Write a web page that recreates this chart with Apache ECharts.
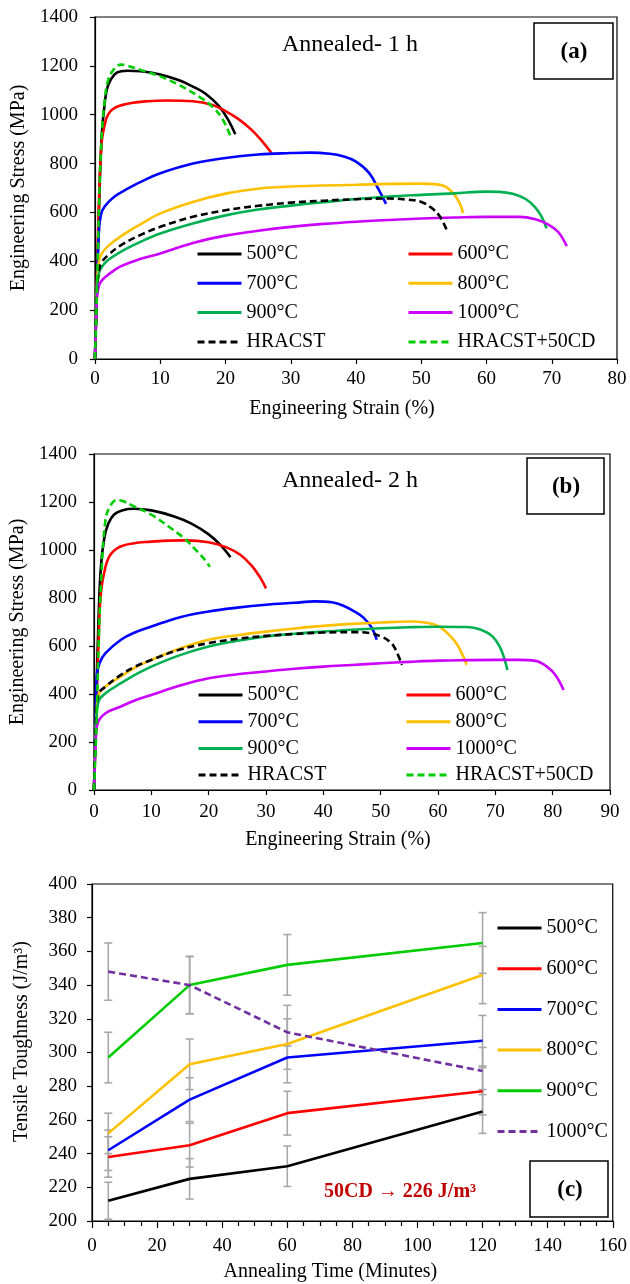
<!DOCTYPE html>
<html>
<head>
<meta charset="utf-8">
<script src="https://cdn.jsdelivr.net/npm/echarts@6/dist/echarts.min.js"></script>
<style>html,body{margin:0;padding:0;background:#fff;}#c{width:630px;height:1284px;}</style>
</head>
<body>
<div id="c"></div>
<script>
// ---------- Panel (a): Annealed 1 h  [strain %, stress MPa] ----------
const a500 = [[0,0],[0.3,300],[0.6,600],[1.0,900],[1.5,1050],[2.0,1120],[3,1165],[4,1178],[5,1180],[7,1178],[10,1165],[13,1140],[15,1115],[17,1085],[19,1035],[20.5,975],[21.5,920]];
const a600 = [[0,0],[0.3,320],[0.6,640],[1.0,880],[1.5,960],[2,1000],[3,1028],[5,1045],[8,1055],[11,1058],[15,1055],[18,1040],[20,1015],[22,982],[24,938],[25.5,895],[27.2,838]];
const a700 = [[0,0],[0.3,300],[0.6,520],[0.9,590],[1.5,625],[3,665],[5,697],[7,725],[10,760],[15,800],[20,823],[25,837],[30,843],[33,845],[36,840],[38,830],[40,808],[42,762],[43.5,692],[44.6,635]];
const a800 = [[0,0],[0.3,300],[0.6,400],[1,430],[2,462],[4,503],[7,552],[10,596],[15,643],[20,677],[25,697],[30,706],[35,710],[40,713],[45,717],[50,718],[52,716],[53.5,708],[54.5,690],[55.3,665],[56,630],[56.4,598]];
const a900 = [[0,0],[0.3,280],[0.6,350],[1,375],[2,405],[4,440],[7,480],[10,514],[15,555],[20,588],[25,612],[30,628],[35,642],[40,655],[45,665],[50,672],[55,678],[60,685],[62,684],[64,676],[66,655],[67.5,620],[68.5,580],[69.2,535]];
const a1000 = [[0,0],[0.3,250],[0.6,300],[1,320],[2,345],[4,380],[7,410],[10,432],[15,475],[20,505],[25,525],[30,541],[35,553],[40,562],[45,569],[50,575],[55,579],[60,582],[65,582],[67.5,572],[69.5,550],[71,520],[72.3,462]];
const aHR = [[0,0],[0.3,280],[0.6,360],[1,395],[2,425],[4,466],[7,508],[10,541],[15,582],[20,609],[25,627],[30,640],[35,648],[40,654],[45,657],[48,652],[50,643],[51.5,620],[52.8,585],[54,522]];
const aCD = [[0,0],[0.3,280],[0.6,600],[1,900],[1.5,1060],[2,1140],[3,1190],[4,1205],[5,1200],[7,1183],[10,1157],[13,1120],[16,1073],[18,1032],[19.5,984],[20.7,916]];

// ---------- Panel (b): Annealed 2 h ----------
const b500 = [[0,0],[0.4,380],[0.8,720],[1.2,930],[1.8,1050],[2.5,1110],[3.5,1148],[5,1166],[7,1172],[10,1165],[14,1140],[17,1110],[20,1065],[22,1022],[23.8,970]];
const b600 = [[0,0],[0.4,330],[0.8,620],[1.2,820],[2,930],[3,985],[5,1018],[10,1035],[16,1040],[20,1032],[23,1012],[25.5,980],[27.5,935],[29,885],[30,840]];
const b700 = [[0,0],[0.3,300],[0.5,480],[1,530],[2,570],[4.7,626],[7,655],[10,681],[15,720],[20,744],[25,760],[30,772],[35,780],[38.5,786],[41.5,782],[43.5,768],[45.5,743],[47,718],[48.5,674],[49.3,626]];
const b800 = [[0,0],[0.4,300],[0.8,395],[2,431],[4.7,473],[7,508],[10,542],[15,590],[20,626],[25,645],[30,660],[35,673],[40,684],[45,692],[50,698],[55,702],[58,697],[60,684],[62,645],[63.5,600],[65,522]];
const b900 = [[0,0],[0.4,280],[0.8,370],[2,403],[4.7,445],[7,478],[10,514],[15,562],[20,598],[25,622],[30,640],[35,651],[40,660],[45,668],[50,674],[55,678],[60,680],[65,679],[67.5,668],[69.5,640],[70.8,595],[71.6,545],[72.1,500]];
const b1000 = [[0,0],[0.3,200],[0.6,275],[2,320],[4.7,348],[7,372],[10,396],[15,435],[20,466],[25,482],[30,494],[35,505],[40,514],[45,521],[50,528],[55,534],[60,539],[65,541],[70,542],[74,542],[77,538],[79,514],[80.5,478],[81.9,417]];
const bHR = [[0,0],[0.4,300],[0.8,400],[2,431],[4.7,480],[7,512],[10,542],[15,585],[20,612],[25,630],[30,642],[35,650],[40,656],[45,658],[48,654],[50,640],[51.5,620],[52.5,590],[53.7,521]];
const bCD = [[0,0],[0.4,250],[0.8,600],[1.2,848],[2,1126],[3,1190],[4,1208],[5,1204],[7,1182],[10,1147],[13,1098],[16,1043],[18,994],[19.5,955],[20.2,930]];

// ---------- Panel (c): Tensile toughness vs annealing time ----------
const times = [5, 30, 60, 120];
const t500 = [212, 225, 232.5, 265];  const e500 = [11, 12, 12, 13];
const t600 = [238, 245, 264, 277];    const e600 = [12, 13, 13, 14];
const t700 = [242, 272, 297, 307];    const e700 = [12, 13, 7, 15];
const t800 = [252, 293, 305, 346];    const e800 = [12, 15, 23, 17];
const t900 = [297, 340, 352, 365];    const e900 = [15, 17, 18, 18];
const t1000 = [348, 340, 312, 289];   const e1000 = [17, 17, 8, 14];

const tempLabels = ['500°C','600°C','700°C','800°C','900°C','1000°C'];
const extraLabels = ['HRACST','HRACST+50CD'];

const FONT = "'Liberation Serif','Times New Roman',serif";

const colAB = ['#000000','#ff0000','#0000ff','#ffc000','#00b050','#cc00ff'];
const colC  = ['#000000','#ff0000','#0000ff','#ffc000','#00cc00','#7030a0'];

function lineSeries(name, data, color, gi, dashed) {
  return {
    name: name, type: 'line', data: data, xAxisIndex: gi, yAxisIndex: gi,
    showSymbol: false, symbol: 'none', smooth: 0.4,
    lineStyle: { color: color, width: 2.6, type: dashed ? [7,4] : 'solid' },
    itemStyle: { color: color }, z: 3
  };
}

const series = [];
const aSets = [a500,a600,a700,a800,a900,a1000];
const bSets = [b500,b600,b700,b800,b900,b1000];
aSets.forEach((d,i)=>series.push(lineSeries('a|'+tempLabels[i], d, colAB[i], 0, false)));
series.push(lineSeries('a|'+extraLabels[0], aHR, '#000000', 0, true));
series.push(lineSeries('a|'+extraLabels[1], aCD, '#00cc00', 0, true));
bSets.forEach((d,i)=>series.push(lineSeries('b|'+tempLabels[i], d, colAB[i], 1, false)));
series.push(lineSeries('b|'+extraLabels[0], bHR, '#000000', 1, true));
series.push(lineSeries('b|'+extraLabels[1], bCD, '#00cc00', 1, true));

const cVals = [t500,t600,t700,t800,t900,t1000];
const cErrs = [e500,e600,e700,e800,e900,e1000];
// error bars
const errData = [];
cVals.forEach((vals, si) => {
  vals.forEach((v, k) => errData.push([times[k], v - cErrs[si][k], v + cErrs[si][k]]));
});
series.push({
  name: 'errbars', type: 'custom', xAxisIndex: 2, yAxisIndex: 2, z: 1,
  data: errData, encode: { x: 0, y: [1, 2] },
  renderItem: function (params, api) {
    const x = api.value(0), lo = api.value(1), hi = api.value(2);
    const p1 = api.coord([x, lo]), p2 = api.coord([x, hi]);
    const w = 4;
    const st = { stroke: '#a8a8a8', lineWidth: 1.6 };
    return { type: 'group', children: [
      { type: 'line', shape: { x1: p1[0], y1: p1[1], x2: p2[0], y2: p2[1] }, style: st },
      { type: 'line', shape: { x1: p1[0]-w, y1: p1[1], x2: p1[0]+w, y2: p1[1] }, style: st },
      { type: 'line', shape: { x1: p2[0]-w, y1: p2[1], x2: p2[0]+w, y2: p2[1] }, style: st }
    ]};
  }
});
cVals.forEach((vals, i) => {
  series.push({
    name: 'c|'+tempLabels[i], type: 'line', xAxisIndex: 2, yAxisIndex: 2,
    data: times.map((t,k)=>[t, vals[k]]), showSymbol: false, symbol: 'none',
    lineStyle: { color: colC[i], width: 2.6, type: i === 5 ? [7,4] : 'solid' },
    itemStyle: { color: colC[i] }, z: 3
  });
});

const axisCommon = {
  type: 'value',
  axisLine: { show: true, onZero: false, lineStyle: { color: '#000', width: 1.2 } },
  axisTick: { show: true, inside: false, length: 5, lineStyle: { color: '#000', width: 1.2 } },
  splitLine: { show: false },
  axisLabel: { color: '#000', fontFamily: FONT, fontSize: 19 },
  nameLocation: 'middle',
  nameTextStyle: { color: '#000', fontFamily: FONT, fontSize: 20 }
};
function ax(extra) {
  const o = echarts.util.merge(JSON.parse(JSON.stringify(axisCommon)), extra, true);
  o.axisLabel.formatter = function (v) { return String(v); };
  return o;
}

const xAxes = [
  ax({ gridIndex: 0, min: 0, max: 80, interval: 10, name: 'Engineering Strain (%)', nameGap: 40,
       axisLabel: { margin: 11 }, nameTextStyle: { padding: [0, 28, 0, 0] } }),
  ax({ gridIndex: 1, min: 0, max: 90, interval: 10, name: 'Engineering Strain (%)', nameGap: 40,
       axisLabel: { margin: 13 }, nameTextStyle: { padding: [0, 28, 0, 0] } }),
  ax({ gridIndex: 2, min: 0, max: 160, interval: 20, name: 'Annealing Time (Minutes)', nameGap: 41,
       axisLabel: { margin: 16 }, axisTick: { length: 7 },
       minorTick: { show: true, splitNumber: 4, length: 5, lineStyle: { color: '#000', width: 1.2 } },
       nameTextStyle: { padding: [0, 44, 0, 0] } })
];
const yAxes = [
  ax({ gridIndex: 0, min: 0, max: 1400, interval: 200, name: 'Engineering Stress (MPa)', nameGap: 63, axisLabel: { margin: 17 } }),
  ax({ gridIndex: 1, min: 0, max: 1400, interval: 200, name: 'Engineering Stress (MPa)', nameGap: 63, axisLabel: { margin: 17 } }),
  ax({ gridIndex: 2, min: 200, max: 400, interval: 20, name: 'Tensile Toughness (J/m³)', nameGap: 60, axisLabel: { margin: 15 },
       nameTextStyle: { padding: [0, 0, 0, 22] } })
];

function legendCol(names, left, top, gap) {
  return {
    orient: 'vertical', left: left, top: top, padding: 0, itemGap: gap,
    itemWidth: 44, itemHeight: 14, data: names, selectedMode: false,
    formatter: function (n) { return n.split('|')[1]; },
    lineStyle: { width: 3 },
    itemStyle: { color: 'rgba(0,0,0,0)', borderColor: 'rgba(0,0,0,0)', borderWidth: 0, opacity: 0 },
    textStyle: { color: '#000', fontFamily: FONT, fontSize: 20, lineHeight: 20, padding: [0,0,0,0] }
  };
}

const legends = [
  legendCol(['a|500°C','a|700°C','a|900°C','a|HRACST'], 196, 244, 9.3),
  legendCol(['a|600°C','a|800°C','a|1000°C','a|HRACST+50CD'], 407, 244, 9.3),
  legendCol(['b|500°C','b|700°C','b|900°C','b|HRACST'], 197, 685, 6.7),
  legendCol(['b|600°C','b|800°C','b|1000°C','b|HRACST+50CD'], 405, 685, 6.7),
  legendCol(tempLabels.map(t=>'c|'+t), 496, 918, 20.7)
];

const txt = (x, y, text, size, bold, color) => ({
  type: 'text', x: x, y: y, z: 10,
  style: { text: text, x: 0, y: 0, textAlign: 'center', textVerticalAlign: 'middle',
           font: (bold ? 'bold ' : '') + size + 'px ' + FONT, fill: color || '#000' }
});
const box = (x, y, w, h) => ({ type: 'rect', z: 10, shape: { x: x, y: y, width: w, height: h },
  style: { fill: 'none', stroke: '#000', lineWidth: 1.5 } });

const option = {
  animation: false,
  backgroundColor: '#fff',
  grid: [
    { left: 95, top: 17, width: 522, height: 342, show: true, borderColor: '#000', borderWidth: 1.2, containLabel: false },
    { left: 94, top: 454, width: 516, height: 336, show: true, borderColor: '#000', borderWidth: 1.2, containLabel: false },
    { left: 92, top: 884, width: 521, height: 337, show: true, borderColor: '#000', borderWidth: 1.2, containLabel: false }
  ],
  xAxis: xAxes,
  yAxis: yAxes,
  legend: legends,
  series: series,
  graphic: [
    txt(350, 45, 'Annealed- 1 h', 24, false),
    box(534, 23, 79, 56),
    txt(574, 52, '(a)', 23, true),
    txt(350, 481, 'Annealed- 2 h', 24, false),
    box(527, 458, 77, 56),
    txt(566, 487, '(b)', 23, true),
    box(530, 1161, 78, 56),
    txt(570, 1190, '(c)', 23, true),
    txt(400, 1192, '50CD → 226 J/m³', 20, true, '#c00000')
  ]
};

const chart = echarts.init(document.getElementById('c'), null, { renderer: 'canvas' });
chart.setOption(option);
</script>
</body>
</html>
